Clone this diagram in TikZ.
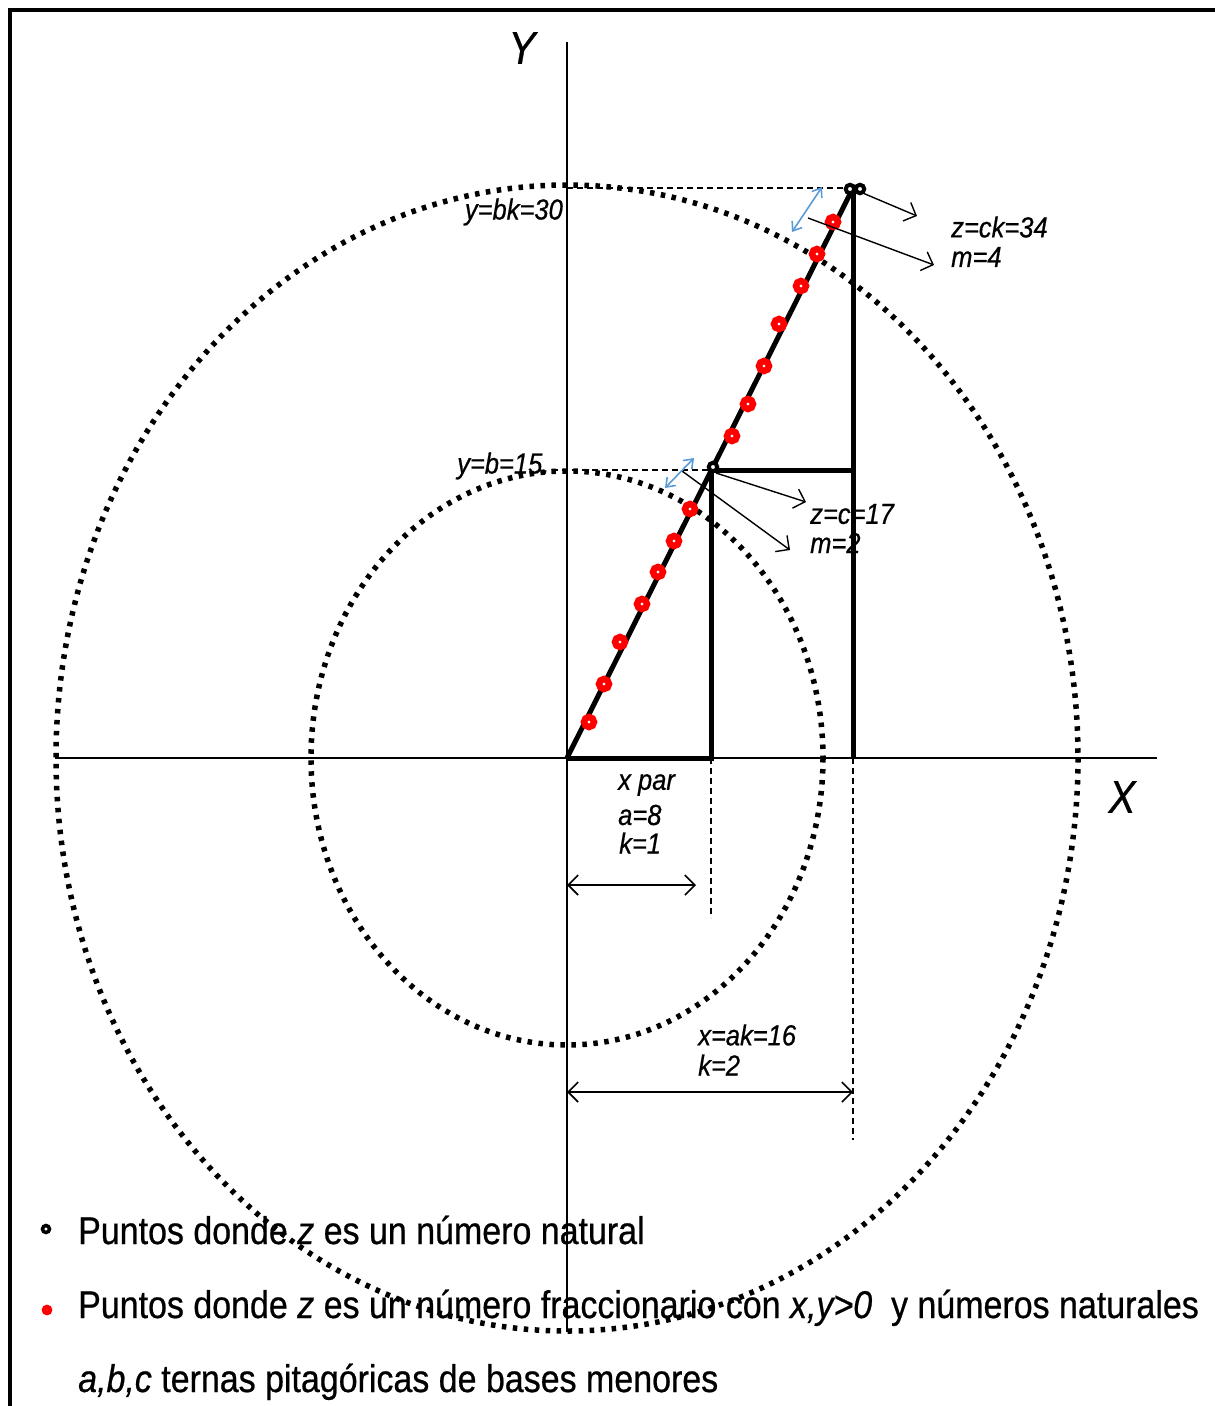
\documentclass[tikz,border=0pt]{standalone}
\usepackage{fontspec}
\setmainfont{Liberation Sans}
\newfontfamily\nsf[FakeStretch=0.88,FakeBold=0.6]{Liberation Sans}
\usetikzlibrary{arrows.meta}
\definecolor{arrblue}{RGB}{91,155,213}
\definecolor{ptred}{RGB}{255,0,0}
\begin{document}
\begin{tikzpicture}[x=1pt,y=-1pt,
  axis/.style={line width=1.5pt},
  legline/.style={line width=5pt},
  dots/.style={line width=5.5pt, dash pattern=on 4.5pt off 6.5pt},
  guide/.style={line width=1.3pt, dash pattern=on 6pt off 4pt},
  ptr/.style={line width=1.4pt, -{Straight Barb[length=10pt,width=20pt,line width=1.4pt]}},
  dim/.style={line width=1.6pt, {Straight Barb[length=10pt,width=20pt]}-{Straight Barb[length=10pt,width=20pt]}},
  bluearr/.style={line width=1.6pt, arrblue, {Straight Barb[length=8pt,width=12pt]}-{Straight Barb[length=8pt,width=12pt]}},
  lbl/.style={font=\nsf\itshape\fontsize{29}{32}\selectfont, inner sep=0pt},
  axlbl/.style={font=\nsf\itshape\fontsize{46}{48}\selectfont, inner sep=0pt},
  redpt/.style={circle, draw=ptred, line width=6.5pt, fill=white, minimum size=10pt, inner sep=0pt},
  blkpt/.style={circle, draw=black, line width=4pt, fill=white, minimum size=8.5pt, inner sep=0pt},
  legend/.style={font=\nsf\fontsize{38.6}{41}\selectfont, inner sep=0pt, anchor=base west}
]
\useasboundingbox (0,0) rectangle (1215,1406);
% frame
\draw[line width=4.5pt] (10,1410) -- (10,10) -- (1220,10);
% key points
\coordinate (O) at (567,758);
\coordinate (P1) at (711,470);
\coordinate (P2) at (853,188);
\coordinate (F1) at (711,758);
\coordinate (F2) at (853,758);
\coordinate (Q2) at (853,470);
% axes
\coordinate (Ytop) at (567,42);
\coordinate (Ybot) at (567,1332);
\coordinate (Xl) at (55,758);
\coordinate (Xr) at (1157,758);
\draw[axis] (Ybot) -- (Ytop);
\draw[axis] (Xl) -- (Xr);
\node[axlbl] (ylab) at (522,48) {Y};
\node[axlbl] (xlab) at (1122,797) {X};
% dotted ellipses
\draw[dots] (O) ellipse [x radius=256, y radius=287];
\draw[dots] (O) ellipse [x radius=511, y radius=573];
% dashed guides
\coordinate (G1) at (567,188);
\coordinate (G2) at (552,470);
\coordinate (G3) at (711,918);
\coordinate (G4) at (853,1140);
\draw[guide] (G1) -- (P2);
\draw[guide] (G2) -- (P1);
\draw[guide] (F1) -- (G3);
\draw[guide] (F2) -- (G4);
% thick triangles
\draw[legline] (O) -- (P2);
\draw[legline] (O) -- (F1) -- (P1);
\draw[legline] (P1) -- (Q2);
\draw[legline] (F2) -- (P2);
% red points
\foreach \n/\px/\py in {1/589/722,2/604/684,3/620/642,4/642/604,5/658/572,6/674/541,7/690/509,
  8/732/436,9/748/404,10/764/366,11/779/324,12/801/286,13/817/254,14/833/222}
  \node[redpt] (r\n) at (\px,\py) {};
% black points
\node[blkpt] (b1) at (713,467) {};
\node[blkpt] (b2a) at (850,189) {};
\node[blkpt] (b2b) at (860,189) {};
% labels
\node[lbl, anchor=east] (lyb30) at (563,212) {y=bk=30};
\node[lbl, anchor=west] (lyb15) at (457,466) {y=b=15.};
\node[lbl, anchor=west] (lz34) at (951,227) {z=ck=34};
\node[lbl, anchor=west] (lm4) at (951,257) {m=4};
\node[lbl, anchor=west] (lz17) at (810,514) {z=c=17};
\node[lbl, anchor=west] (lm2) at (810,543) {m=2};
\node[lbl, anchor=west] (lxpar) at (618,785) {x par};
\node[lbl, anchor=west] (la8) at (618,815) {a=8};
\node[lbl, anchor=west] (lk1) at (619,843) {k=1};
\node[lbl, anchor=west] (lx16) at (698,1035) {x=ak=16};
\node[lbl, anchor=west] (lk2) at (698,1065) {k=2};
% pointer arrows
\coordinate (a1s) at (858,191); \coordinate (a1e) at (917,216);
\coordinate (a2s) at (808,218); \coordinate (a2e) at (934,265);
\coordinate (a3s) at (716,473); \coordinate (a3e) at (806,502);
\coordinate (a4s) at (682,471); \coordinate (a4e) at (790,550);
\draw[ptr] (a1s) -- (a1e);
\draw[ptr] (a2s) -- (a2e);
\draw[ptr] (a3s) -- (a3e);
\draw[ptr] (a4s) -- (a4e);
% blue arrows
\coordinate (u1s) at (792,232); \coordinate (u1e) at (822,187);
\coordinate (u2s) at (665,488); \coordinate (u2e) at (694,458);
\draw[bluearr] (u1s) -- (u1e);
\draw[bluearr] (u2s) -- (u2e);
% dimension arrows
\coordinate (d1s) at (567,885); \coordinate (d1e) at (696,885);
\coordinate (d2s) at (567,1092); \coordinate (d2e) at (853,1092);
\draw[dim] (d1s) -- (d1e);
\draw[dim] (d2s) -- (d2e);
% legend
\node[circle, draw=black, line width=3.5pt, fill=white, minimum size=7pt, inner sep=0pt] (lgb) at (46,1229) {};
\node[circle, draw=ptred, line width=4.5pt, fill=white, minimum size=6pt, inner sep=0pt] (lgr) at (47,1310) {};
\node[legend] (lg1) at (78,1244) {Puntos donde \textit{z} es un número natural};
\node[legend] (lg2) at (78,1318) {Puntos donde \textit{z} es un número fraccionario con \textit{x,y>0}\ \ y números naturales};
\node[legend] (lg3) at (78,1392) {\textit{a,b,c} ternas pitagóricas de bases menores};
\end{tikzpicture}
\end{document}
